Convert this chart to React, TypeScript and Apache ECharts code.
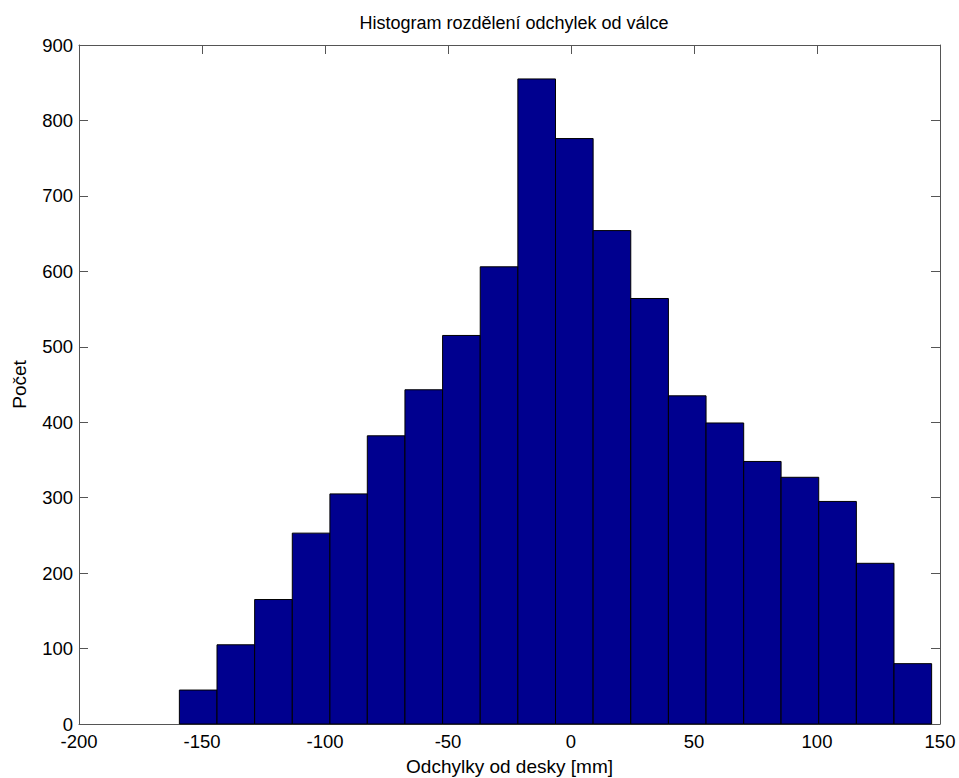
import React, { useEffect, useRef } from "react";
import * as echarts from "echarts";

const binLowerEdges = [-159.2, -143.9, -128.6, -113.3, -98.0, -82.8, -67.5, -52.2, -36.9, -21.6, -6.3, 9.0, 24.3, 39.6, 54.9, 70.2, 85.4, 100.7, 116.0, 131.3];
const binUpperEdges = [-143.9, -128.6, -113.3, -98.0, -82.8, -67.5, -52.2, -36.9, -21.6, -6.3, 9.0, 24.3, 39.6, 54.9, 70.2, 85.4, 100.7, 116.0, 131.3, 146.6];
const counts = [45, 105, 165, 253, 305, 382, 443, 515, 606, 855, 776, 654, 564, 435, 399, 348, 327, 295, 213, 80];

const xTicks = { min: -200, max: 150, interval: 50 };
const yTicks = { min: 0, max: 900, interval: 100 };

const titleText = "Histogram rozdělení odchylek od válce";
const xName = "Odchylky od desky [mm]";
const yName = "Počet";

export default function App() {
  const ref = useRef<HTMLDivElement>(null);
  useEffect(() => {
    document.body.style.margin = "0";
    const chart = echarts.init(ref.current!, null, { renderer: "svg" });
    const font = "'Liberation Sans', Arial, Helvetica, sans-serif";
    const axisColor = "#555";
    const data = counts.map((c, i) => [binLowerEdges[i], binUpperEdges[i], c]);
    const common = {
      type: "value" as const,
      axisLine: { show: true, onZero: false, lineStyle: { color: axisColor, width: 1 } },
      axisTick: { show: true, inside: true, length: 9, lineStyle: { color: axisColor } },
      splitLine: { show: false },
    };
    chart.setOption({
      animation: false,
      backgroundColor: "#fff",
      title: {
        text: titleText,
        left: 509,
        textAlign: "center",
        top: 9,
        textStyle: { fontFamily: font, fontSize: 18, fontWeight: "normal", color: "#000" },
      },
      grid: { left: 79, right: 19, top: 45, bottom: 54, containLabel: false, outerBoundsMode: "none" },
      xAxis: [
        {
          ...common,
          position: "bottom",
          min: xTicks.min,
          max: xTicks.max,
          interval: xTicks.interval,
          name: xName,
          nameLocation: "middle",
          nameGap: 33,
          nameTextStyle: { fontFamily: font, fontSize: 19, color: "#000" },
          axisLabel: { fontFamily: font, fontSize: 18.5, color: "#000", margin: 10, lineHeight: 14 },
        },
        {
          ...common,
          position: "top",
          min: xTicks.min,
          max: xTicks.max,
          interval: xTicks.interval,
          axisLabel: { show: false },
        },
      ],
      yAxis: [
        {
          ...common,
          position: "left",
          min: yTicks.min,
          max: yTicks.max,
          interval: yTicks.interval,
          name: yName,
          nameLocation: "middle",
          nameGap: 50,
          nameTextStyle: { fontFamily: font, fontSize: 19, color: "#000" },
          axisLabel: { fontFamily: font, fontSize: 18.5, color: "#000", margin: 6, lineHeight: 14 },
        },
        {
          ...common,
          position: "right",
          min: yTicks.min,
          max: yTicks.max,
          interval: yTicks.interval,
          axisLabel: { show: false },
        },
      ],
      series: [
        {
          type: "custom",
          xAxisIndex: 0,
          yAxisIndex: 0,
          data,
          encode: { x: [0, 1], y: 2 },
          renderItem: (params: any, api: any) => {
            const p0 = api.coord([api.value(0), api.value(2)]);
            const p1 = api.coord([api.value(1), 0]);
            return {
              type: "rect",
              shape: { x: p0[0], y: p0[1], width: p1[0] - p0[0], height: p1[1] - p0[1] },
              style: { fill: "#00008F", stroke: "#000", lineWidth: 1 },
            };
          },
        },
      ],
    });
    return () => chart.dispose();
  }, []);
  return <div ref={ref} style={{ position: "absolute", left: 0, top: 0, width: 959, height: 778 }} />;
}
